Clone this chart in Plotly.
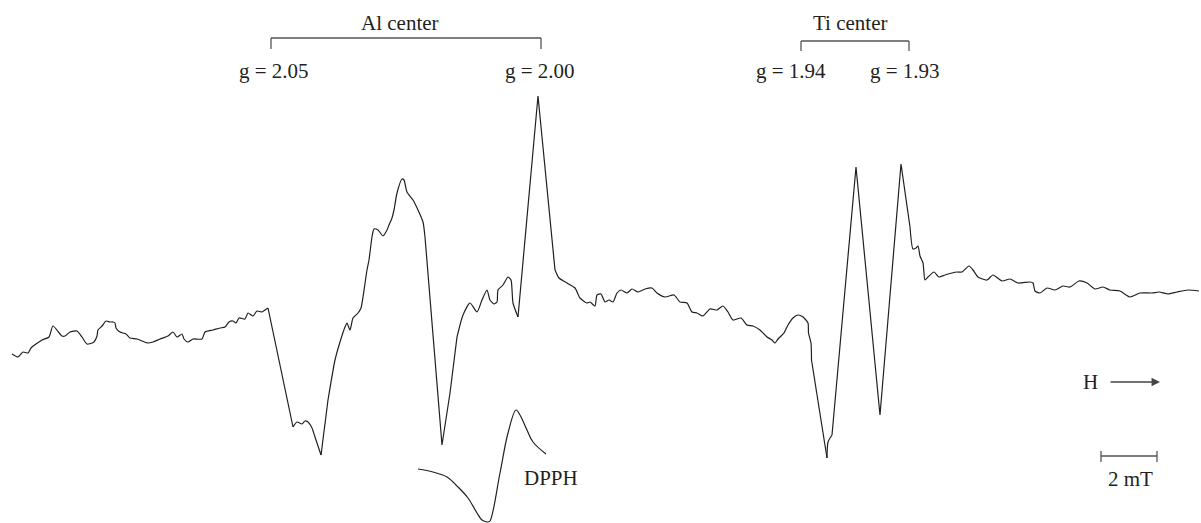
import plotly.graph_objects as go

# ---- data (field in a.u., derivative signal in a.u.) ----
field = [12, 18, 23, 28, 31, 42, 49, 53, 62, 65, 70, 77, 82, 87, 94, 97, 98, 102, 106, 110,
         113, 115, 116, 120, 126, 130, 137, 148, 153, 160, 168, 173, 177, 182, 184, 188, 193, 202, 205, 213,
         220, 225, 229, 233, 236, 239, 245, 248, 253, 257, 262, 265, 268,
         293, 297, 302, 305, 308, 312, 315, 317, 321,
         328, 335, 340, 345, 347, 350, 353, 358, 361, 363, 367, 369, 372, 374, 378, 383, 387, 389, 392, 394,
         397, 402, 404, 407, 413, 418, 423, 425, 432, 442,
         450, 457, 463, 470, 477, 482, 487, 490, 494, 497, 498, 503, 508, 511, 513, 518,
         538, 555, 559, 567, 575, 580, 587, 590, 595, 597, 601, 605, 609, 613, 617, 621, 627, 632, 638, 645,
         652, 657, 665, 674, 680, 687, 692, 697, 703, 710, 717, 723, 728, 733, 741, 747, 753, 760, 767, 772,
         775, 778, 780, 784, 788, 793, 798, 803, 808, 808.5, 811, 811.5,
         827, 828, 832, 856, 880, 901, 910, 913, 916, 918, 920, 923, 925, 928, 934, 939, 945, 952, 957, 962,
         969, 973, 978, 987, 993, 1002, 1010, 1018, 1030, 1033, 1035, 1040, 1047, 1055, 1063, 1070, 1079, 1087,
         1095, 1103, 1110, 1120, 1130, 1140, 1152, 1159, 1168, 1177, 1188, 1199]
signal = [-4, -7, -2, -3, 2, 10, 13, 24, 14, 14, 18, 19, 13, 6, 8, 14, 20, 24, 29, 28,
          28, 27, 22, 18, 16, 12, 11, 7, 8, 11, 14, 18, 13, 16, 11, 8, 11, 11, 18, 20,
          22, 23, 28, 29, 27, 32, 31, 37, 34, 39, 38, 40, 42,
          -77, -72, -74, -71, -72, -78, -87, -93, -105,
          -50, -10, 8, 23, 27, 20, 32, 37, 42, 53, 80, 90, 113, 121, 120, 114, 120, 125, 132, 140,
          157, 171, 170, 158, 150, 140, 128, 113, 30, -95,
          -43, 13, 35, 47, 38, 50, 60, 50, 46, 48, 60, 65, 73, 70, 47, 33,
          254, 80, 72, 67, 62, 52, 47, 48, 44, 55, 56, 48, 50, 48, 57, 60, 57, 61, 58, 61,
          62, 57, 53, 55, 48, 47, 38, 37, 34, 41, 40, 44, 38, 30, 32, 25, 24, 20, 13, 10,
          7, 11, 13, 17, 25, 32, 35, 33, 27, 17, 7, -10,
          -108, -92, -85, 183, -65, 186, 123, 101, 102, 104, 94, 87, 70, 73, 78, 73, 75, 77, 78, 78,
          84, 80, 73, 70, 75, 69, 71, 67, 68, 67, 59, 57, 62, 60, 64, 63, 69, 67,
          61, 63, 60, 59, 53, 57, 57, 58, 56, 58, 60, 59]

dpph_field = [418, 433, 447, 458, 468, 477, 482, 488, 490, 500, 508, 516, 520, 527, 533, 546]
dpph_signal = [-119, -122, -127, -137, -148, -163, -170, -172, -171, -123, -83, -60, -65, -80, -92, -104]

center_names = ["Al center", "Ti center"]
g_labels = ["g = 2.05", "g = 2.00", "g = 1.94", "g = 1.93"]
g_field = [271, 541, 801, 909]          # bracket ends (field positions of the g markers)
g_label_field = [274, 540, 791, 905]    # label centres

INK = "#231f20"
FONT = dict(family="Liberation Serif, Times New Roman, serif", size=21, color=INK)

fig = go.Figure()

# draw the spectrum: steep strokes as straight lines, noisy baseline smoothly
n = len(field)
steep = [abs(signal[i + 1] - signal[i]) >= 45 for i in range(n - 1)]
start = 0
for i in range(1, n):
    if i == n - 1 or steep[i] != steep[start]:
        kind = steep[start]
        seg = slice(start, i + 1)
        fig.add_trace(go.Scatter(
            x=field[seg], y=signal[seg], mode="lines",
            line_shape="linear" if kind else "spline",
            line=dict(color=INK, width=1.2, **({} if kind else {"smoothing": 0.6})),
            hoverinfo="skip", showlegend=False))
        start = i

fig.add_trace(go.Scatter(x=dpph_field, y=dpph_signal, mode="lines", line_shape="spline",
                         line=dict(color=INK, width=1.2), hoverinfo="skip", showlegend=False))

shapes = []
# brackets for the two centres
for (a, b), top, bot in [((g_field[0], g_field[1]), 312, 301), ((g_field[2], g_field[3]), 309, 299)]:
    shapes.append(dict(type="line", x0=a, x1=b, y0=top, y1=top, line=dict(color="#555", width=1.3)))
    shapes.append(dict(type="line", x0=a, x1=a, y0=top, y1=bot, line=dict(color="#555", width=1.3)))
    shapes.append(dict(type="line", x0=b, x1=b, y0=top, y1=bot, line=dict(color="#555", width=1.3)))
# 2 mT scale bar
shapes.append(dict(type="line", x0=1101, x1=1157, y0=-106, y1=-106, line=dict(color="#555", width=1.3)))
shapes.append(dict(type="line", x0=1101, x1=1101, y0=-101, y1=-112, line=dict(color="#555", width=1.3)))
shapes.append(dict(type="line", x0=1157, x1=1157, y0=-101, y1=-112, line=dict(color="#555", width=1.3)))

ann = []
ann.append(dict(x=400, y=327, text=center_names[0], showarrow=False, font=FONT))
ann.append(dict(x=850, y=327, text=center_names[1], showarrow=False, font=FONT))
for t, xpos in zip(g_labels, g_label_field):
    ann.append(dict(x=xpos, y=279, text=t, showarrow=False, font=FONT))
ann.append(dict(x=551, y=-128, text="DPPH", showarrow=False, font=FONT))
ann.append(dict(x=1130, y=-129, text="2 mT", showarrow=False, font=FONT))
ann.append(dict(x=1090, y=-32, text="H", showarrow=False, font=FONT))
ann.append(dict(x=1160, y=-32, ax=1109, ay=-32, xref="x", yref="y", axref="x", ayref="y",
                text="", showarrow=True, arrowhead=2, arrowsize=1.3, arrowwidth=1.3,
                arrowcolor="#444"))

fig.update_layout(
    width=1201, height=523,
    margin=dict(l=0, r=0, t=0, b=0),
    paper_bgcolor="white", plot_bgcolor="white",
    xaxis=dict(range=[0, 1201], visible=False, fixedrange=True),
    yaxis=dict(range=[-173, 350], visible=False, fixedrange=True),
    shapes=shapes, annotations=ann,
)

fig.write_html("out.html", config={"displayModeBar": False},
               post_script="document.body.style.margin='0';document.body.style.overflow='hidden';")
